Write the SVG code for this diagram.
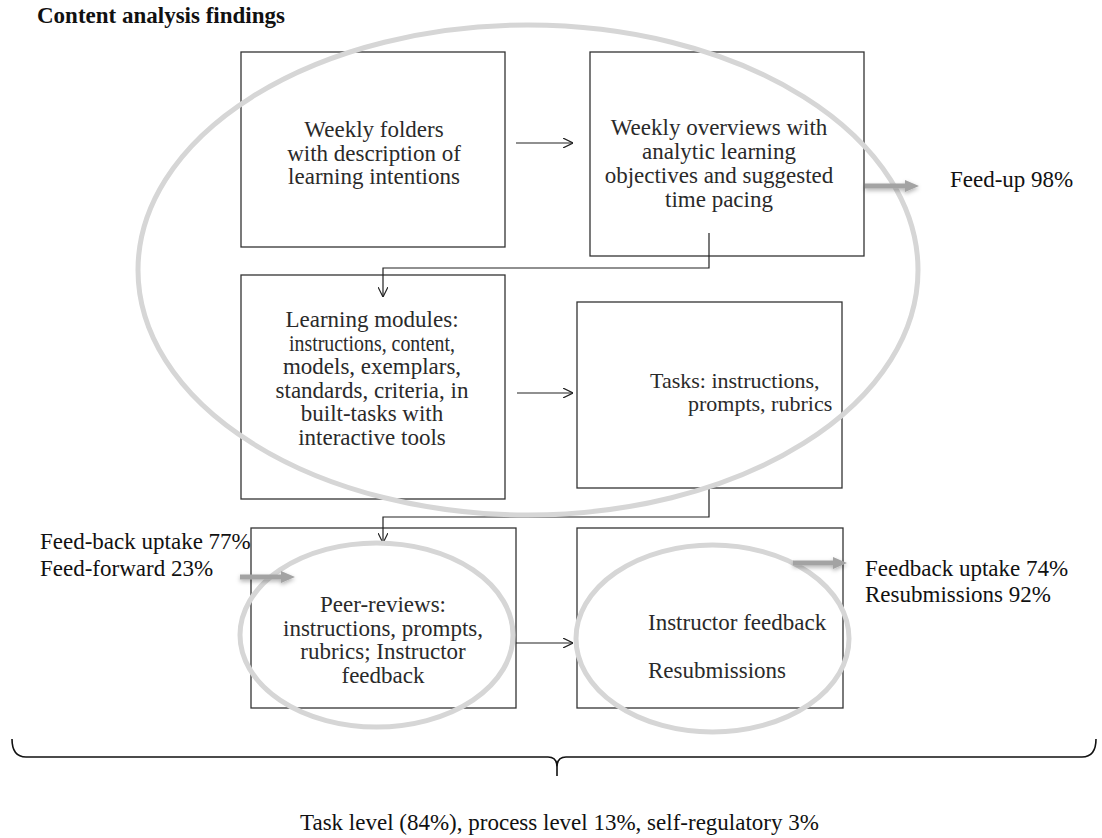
<svg xmlns="http://www.w3.org/2000/svg" width="1102" height="838" viewBox="0 0 1102 838">
<style>
.t{font-family:"Liberation Serif","Times New Roman",serif;font-size:23px;fill:#111}
.bt{font-family:"Liberation Serif","Times New Roman",serif;font-size:23px;fill:#2a2a2a;text-anchor:middle}
.bl{font-family:"Liberation Serif","Times New Roman",serif;font-size:23px;fill:#2a2a2a}
.box{fill:#fff;stroke:#333;stroke-width:1.3}
.hl{fill:none;stroke:#d6d6d6;stroke-width:5}
.con{fill:none;stroke:#222;stroke-width:1.2}
.gar{fill:#a3a3a3}
.brace{fill:none;stroke:#111;stroke-width:1.6}
</style>
<defs>
<marker id="ah" viewBox="0 0 10 10" refX="10" refY="5" markerWidth="10" markerHeight="10" markerUnits="userSpaceOnUse" orient="auto">
<path d="M0,0 L10,5 L0,10" fill="none" stroke="#222" stroke-width="1.2"/>
</marker>
<filter id="sh" x="-30%" y="-80%" width="160%" height="260%">
<feDropShadow dx="0" dy="2" stdDeviation="2" flood-color="#000" flood-opacity="0.3"/>
</filter>
</defs>
<rect width="1102" height="838" fill="#fff"/>
<text class="t" x="37" y="23" font-weight="bold">Content analysis findings</text>

<g id="node-weekly-folders">
<rect class="box" x="241" y="52" width="264" height="195"/>
<text class="bt" x="374" y="137">Weekly folders</text>
<text class="bt" x="374" y="160.5">with description of</text>
<text class="bt" x="374" y="184">learning intentions</text>
</g>
<g id="node-weekly-overviews">
<rect class="box" x="590" y="52" width="274" height="204"/>
<text class="bt" x="719" y="135">Weekly overviews with</text>
<text class="bt" x="719" y="159">analytic learning</text>
<text class="bt" x="719" y="183">objectives and suggested</text>
<text class="bt" x="719" y="207">time pacing</text>
</g>
<g id="node-learning-modules">
<rect class="box" x="241" y="275" width="264" height="224"/>
<text class="bt" x="372" y="327">Learning modules:</text>
<text class="bt" x="372" y="350.5" textLength="166" lengthAdjust="spacingAndGlyphs">instructions, content,</text>
<text class="bt" x="372" y="374">models, exemplars,</text>
<text class="bt" x="372" y="397.5">standards, criteria, in</text>
<text class="bt" x="372" y="421">built-tasks with</text>
<text class="bt" x="372" y="444.5">interactive tools</text>
</g>
<g id="node-tasks">
<rect class="box" x="577" y="302" width="265" height="186"/>
<text class="bl" x="650" y="388" style="font-size:22px">Tasks: instructions,</text>
<text class="bl" x="688" y="411" style="font-size:22px">prompts, rubrics</text>
</g>
<g id="node-peer-reviews">
<rect class="box" x="251" y="528" width="265" height="180"/>
<text class="bt" x="383" y="612">Peer-reviews:</text>
<text class="bt" x="383" y="635.5">instructions, prompts,</text>
<text class="bt" x="383" y="659">rubrics; Instructor</text>
<text class="bt" x="383" y="682.5">feedback</text>
</g>
<g id="node-instructor-feedback">
<rect class="box" x="577" y="528" width="266" height="180"/>
<text class="bl" x="648" y="630">Instructor feedback</text>
<text class="bl" x="648" y="678">Resubmissions</text>
</g>

<g id="connectors">
<line class="con" x1="516" y1="143" x2="573" y2="143" marker-end="url(#ah)"/>
<polyline class="con" points="709,233 709,268 383,268 383,297" marker-end="url(#ah)"/>
<line class="con" x1="517" y1="393" x2="573" y2="393" marker-end="url(#ah)"/>
<polyline class="con" points="709,488 709,517 383,517 383,543" marker-end="url(#ah)"/>
<line class="con" x1="516" y1="643" x2="573" y2="643" marker-end="url(#ah)"/>
</g>

<g id="highlights">
<ellipse class="hl" cx="528" cy="270" rx="390" ry="245"/>
<ellipse class="hl" cx="376.5" cy="635" rx="136.5" ry="92"/>
<ellipse class="hl" cx="712.5" cy="638.5" rx="136.5" ry="93.5"/>
</g>

<g id="feed-arrows" filter="url(#sh)">
<polygon class="gar" points="865,183.5 905,183.5 905,180 919,186 905,192 905,188.5 865,188.5"/>
<polygon class="gar" points="240,574.5 281,574.5 281,571 295,577 281,583 281,579.5 240,579.5"/>
<polygon class="gar" points="793,560.5 833,560.5 833,557 847,563 833,569 833,565.5 793,565.5"/>
</g>

<g id="labels">
<text class="t" x="950" y="187">Feed-up 98%</text>
<text class="t" x="40" y="549">Feed-back uptake 77%</text>
<text class="t" x="40" y="576">Feed-forward 23%</text>
<text class="t" x="865" y="576">Feedback uptake 74%</text>
<text class="t" x="865" y="602">Resubmissions 92%</text>
</g>

<g id="summary-brace">
<path class="brace" d="M12,739 Q12,757 26,757 L548,757 Q557,757 557,767 L557,776 M557,767 Q557,757 566,757 L1082,757 Q1096,757 1096,739"/>
<text class="t" x="300" y="830">Task level (84%), process level 13%, self-regulatory 3%</text>
</g>
</svg>
